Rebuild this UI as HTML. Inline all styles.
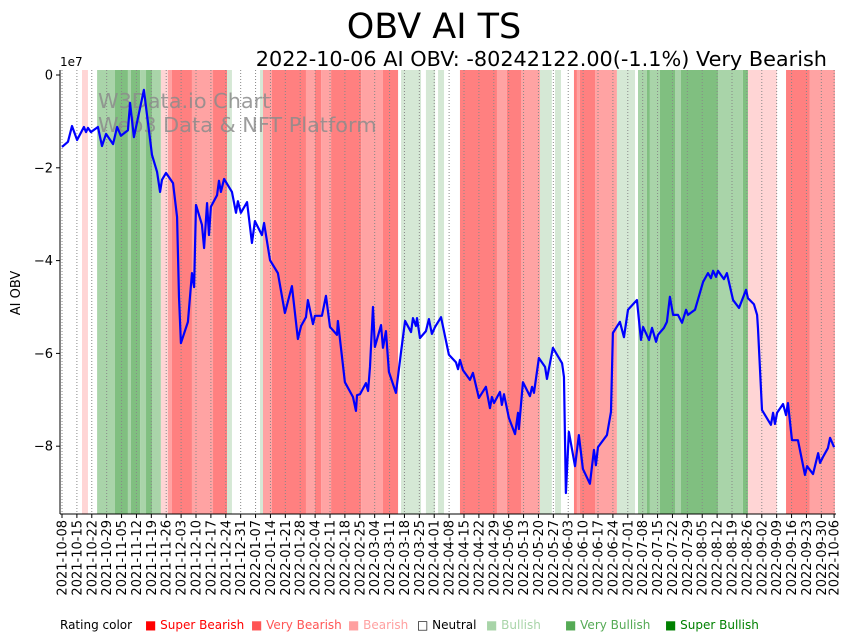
<!DOCTYPE html>
<html><head><meta charset="utf-8"><style>
body{margin:0;background:#fff;}
svg{display:block;font-family:"DejaVu Sans","Liberation Sans",sans-serif;}
</style></head><body>
<svg id="chart" width="854" height="641" viewBox="0 0 854 641">
<text x="434" y="38" font-size="35" text-anchor="middle">OBV AI TS</text>
<text x="827" y="66" font-size="20.8" text-anchor="end">2022-10-06 AI OBV: -80242122.00(-1.1%) Very Bearish</text>
<g id="bands"></g>
<g id="grid"></g>
<text x="98" y="108" font-size="20.8" fill="#8c8c8c" fill-opacity="0.85">W3Data.io Chart</text>
<text x="98" y="132" font-size="20.8" fill="#8c8c8c" fill-opacity="0.85">Web3 Data &amp; NFT Platform</text>
<polyline id="obvline" fill="none" stroke="#0000ff" stroke-width="2.2" stroke-linejoin="round"/>
<g id="axes"></g>
<text x="60" y="66" font-size="12">1e7</text>
<text transform="translate(20,293) rotate(-90)" font-size="13" text-anchor="middle">AI OBV</text>
<g font-size="12">
<text x="60" y="629">Rating color</text>
<text x="145" y="629" fill="#ff0000">■ Super Bearish</text>
<text x="251" y="629" fill="#ff5555">■ Very Bearish</text>
<text x="348" y="629" fill="#ffa0a0">■ Bearish</text>
<text x="417" y="629" fill="#000">□ Neutral</text>
<text x="486" y="629" fill="#a8d4a8">■ Bullish</text>
<text x="565" y="629" fill="#55aa55">■ Very Bullish</text>
<text x="665" y="629" fill="#008000">■ Super Bullish</text>
</g>
</svg>
<script>
const days=[0,2.8,4.7,7.1,10.3,11.3,12.2,13.6,16.9,18.8,20.7,24.0,25.9,27.7,31.0,32.0,33.8,38.5,42.3,44.7,46.1,47.0,48.9,52.2,54.1,55.0,55.9,59.2,61.1,62.1,63.0,65.8,66.8,68.2,69.1,70.0,72.9,73.8,74.7,76.2,79.9,81.8,82.7,84.1,87.0,89.3,90.7,94.0,95.0,97.8,101.5,104.8,108.1,110.9,112.4,114.7,115.6,118.0,118.9,122.2,124.1,126.0,129.3,129.7,133.0,136.8,138.2,138.7,140.1,142.9,143.9,144.8,146.2,147.1,150.0,150.9,152.3,153.7,157.0,159.4,161.3,164.1,165.0,166.4,166.9,168.3,171.1,172.5,173.9,175.4,178.2,181.9,185.2,186.2,187.1,188.5,191.8,193.2,196.0,199.3,201.2,202.1,203.1,205.9,206.8,207.8,210.1,213.0,214.4,214.8,216.7,220.0,221.0,221.9,224.2,227.1,228.0,230.8,235.1,236.0,236.9,238.3,241.2,243.0,244.9,248.2,250.1,251.0,252.0,256.2,258.1,259.0,262.3,264.2,266.1,270.3,272.2,273.2,276.0,277.4,279.3,280.2,283.0,284.4,285.8,287.3,289.6,291.5,293.4,294.3,297.6,301.4,303.7,305.1,306.1,307.5,308.4,311.2,312.6,315.5,318.3,321.6,322.5,325.3,326.8,327.2,329.1,333.3,334.3,335.2,336.2,339.0,340.4,341.3,343.2,346.0,347.9,349.3,350.3,353.1,355.5,356.4,357.8,360.1,361.1,363.0];
const obv=[-1.55,-1.44,-1.10,-1.40,-1.12,-1.23,-1.14,-1.23,-1.12,-1.53,-1.27,-1.49,-1.12,-1.31,-1.19,-0.60,-1.34,-0.32,-1.72,-2.09,-2.52,-2.26,-2.11,-2.33,-3.06,-4.78,-5.78,-5.32,-4.27,-4.57,-2.80,-3.23,-3.73,-2.76,-3.45,-2.84,-2.59,-2.28,-2.52,-2.24,-2.52,-2.97,-2.72,-2.97,-2.74,-3.62,-3.15,-3.45,-3.19,-3.99,-4.27,-5.13,-4.55,-5.69,-5.41,-5.22,-4.85,-5.37,-5.19,-5.19,-4.76,-5.43,-5.60,-5.30,-6.62,-6.94,-7.24,-6.90,-6.88,-6.64,-6.81,-6.29,-5.00,-5.86,-5.39,-5.88,-5.52,-6.40,-6.85,-5.97,-5.30,-5.54,-5.24,-5.41,-5.24,-5.67,-5.52,-5.26,-5.58,-5.43,-5.22,-6.03,-6.19,-6.34,-6.14,-6.36,-6.57,-6.42,-6.96,-6.72,-7.18,-6.94,-7.07,-6.83,-7.11,-6.88,-7.39,-7.74,-7.28,-7.63,-6.62,-6.92,-6.72,-6.85,-6.10,-6.29,-6.55,-5.88,-6.21,-6.51,-9.01,-7.69,-8.43,-7.76,-8.49,-8.81,-8.08,-8.41,-8.02,-7.76,-7.26,-5.56,-5.32,-5.65,-5.06,-4.85,-5.71,-5.43,-5.71,-5.45,-5.75,-5.60,-5.45,-5.32,-4.78,-5.17,-5.17,-5.34,-5.06,-5.17,-5.06,-4.46,-4.27,-4.38,-4.22,-4.35,-4.22,-4.40,-4.27,-4.85,-5.02,-4.63,-4.81,-4.94,-5.17,-5.45,-7.22,-7.54,-7.28,-7.52,-7.28,-7.09,-7.33,-7.07,-7.87,-7.87,-8.30,-8.62,-8.43,-8.60,-8.15,-8.36,-8.23,-8.04,-7.82,-8.02];
const bandStart=[9.4,16.5,24.9,31.0,32.4,36.7,39.5,42.3,46.5,49.8,51.7,61.1,71.0,77.6,93.1,94.5,98.7,114.7,118.9,121.8,126.5,140.6,150.9,159.4,171.1,176.8,187.1,204.5,209.2,215.8,224.7,231.8,240.7,242.1,243.5,250.6,260.9,270.8,275.0,276.4,281.1,288.2,291.0,308.4,320.1,322.5,340.4,351.6];
const bandEnd=[12.2,24.9,31.0,32.4,36.7,39.5,42.3,46.5,49.8,51.7,61.1,71.0,77.6,79.9,94.5,98.7,114.7,118.9,121.8,126.5,140.6,150.9,158.0,168.8,175.4,179.6,204.5,209.2,215.8,224.7,230.3,234.6,242.1,243.5,250.6,260.9,269.4,275.0,276.4,281.1,288.2,291.0,308.4,320.1,322.5,336.1,351.6,363.4];
const bandRating=["lb","mg","dg","mg","dg","mg","dg","mg","lb","b","vb","b","vb","lg","lg","b","vb","b","vb","b","vb","b","vb","lg","lg","lg","vb","b","vb","b","lg","lg","vb","b","vb","b","lg","mg","dg","mg","dg","mg","dg","mg","dg","lb","vb","b"];
const tickLabels=["2021-10-08","2021-10-15","2021-10-22","2021-10-29","2021-11-05","2021-11-12","2021-11-19","2021-11-26","2021-12-03","2021-12-10","2021-12-17","2021-12-24","2021-12-31","2022-01-07","2022-01-14","2022-01-21","2022-01-28","2022-02-04","2022-02-11","2022-02-18","2022-02-25","2022-03-04","2022-03-11","2022-03-18","2022-03-25","2022-04-01","2022-04-08","2022-04-15","2022-04-22","2022-04-29","2022-05-06","2022-05-13","2022-05-20","2022-05-27","2022-06-03","2022-06-10","2022-06-17","2022-06-24","2022-07-01","2022-07-08","2022-07-15","2022-07-22","2022-07-29","2022-08-05","2022-08-12","2022-08-19","2022-08-26","2022-09-02","2022-09-09","2022-09-16","2022-09-23","2022-09-30","2022-10-06"];
const tickDays=[0,7,14,21,28,35,42,49,56,63,70,77,84,91,98,105,112,119,126,133,140,147,154,161,168,175,182,189,196,203,210,217,224,231,238,245,252,259,266,273,280,287,294,301,308,315,322,329,336,343,350,357,363];
const yTicks=[0,-2,-4,-6,-8];

const colors={vb:"#ff8080",b:"#ffa3a3",lb:"#ffd5d5",lg:"#d5e8d5",mg:"#a9d4a9",dg:"#80bf80"};
const X0=62,XK=2.127,Y0=75,YK=46.4,TOP=70,BOT=514,LEFT=60;
const xs=d=>X0+d*XK, ys=v=>Y0-v*YK;
const NS="http://www.w3.org/2000/svg";
function mk(tag,parent){const e=document.createElementNS(NS,tag);parent.appendChild(e);return e;}
const bandsG=document.getElementById('bands');
for(let i=0;i<bandStart.length;i++){
  const r=mk('rect',bandsG);
  
  
  r.setAttribute('x',xs(bandStart[i]));r.setAttribute('y',TOP);
  r.setAttribute('width',(bandEnd[i]-bandStart[i])*XK);r.setAttribute('height',BOT-TOP);
  r.setAttribute('fill',colors[bandRating[i]]);
}
const gridG=document.getElementById('grid'),axG=document.getElementById('axes');
tickDays.forEach((d,i)=>{
  const x=xs(d);
  const l=mk('line',gridG);
  
  
  l.setAttribute('x1',x);l.setAttribute('x2',x);l.setAttribute('y1',TOP);l.setAttribute('y2',BOT);
  l.setAttribute('stroke','#888');l.setAttribute('stroke-width','1');l.setAttribute('stroke-dasharray','1,2');
  const t=mk('line',axG);
  
  
  t.setAttribute('x1',x);t.setAttribute('x2',x);t.setAttribute('y1',BOT);t.setAttribute('y2',BOT+4);t.setAttribute('stroke','#000');
  const tx=mk('text',axG);
  
  
  tx.setAttribute('transform','translate('+(x+4.5)+','+(BOT+6)+') rotate(-90)');
  tx.setAttribute('text-anchor','end');tx.setAttribute('font-size','13');
  tx.textContent=tickLabels[i];
});
yTicks.forEach(v=>{
  const y=ys(v);
  const t=mk('line',axG);
  
  
  t.setAttribute('x1',LEFT-4);t.setAttribute('x2',LEFT);t.setAttribute('y1',y);t.setAttribute('y2',y);t.setAttribute('stroke','#000');
  const tx=mk('text',axG);
  
  
  tx.setAttribute('x',LEFT-7);tx.setAttribute('y',y+4.5);tx.setAttribute('text-anchor','end');tx.setAttribute('font-size','13');
  tx.textContent=v===0?"0":"\u2212"+Math.abs(v);
});
const sp1=mk('line',axG);


sp1.setAttribute('x1',LEFT);sp1.setAttribute('x2',LEFT);sp1.setAttribute('y1',TOP);sp1.setAttribute('y2',BOT);sp1.setAttribute('stroke','#000');
const sp2=mk('line',axG);


sp2.setAttribute('x1',LEFT);sp2.setAttribute('x2',836);sp2.setAttribute('y1',BOT);sp2.setAttribute('y2',BOT);sp2.setAttribute('stroke','#000');
document.getElementById('obvline').setAttribute('points',days.map((d,i)=>xs(d)+','+ys(obv[i])).join(' '));
</script>
</body></html>
